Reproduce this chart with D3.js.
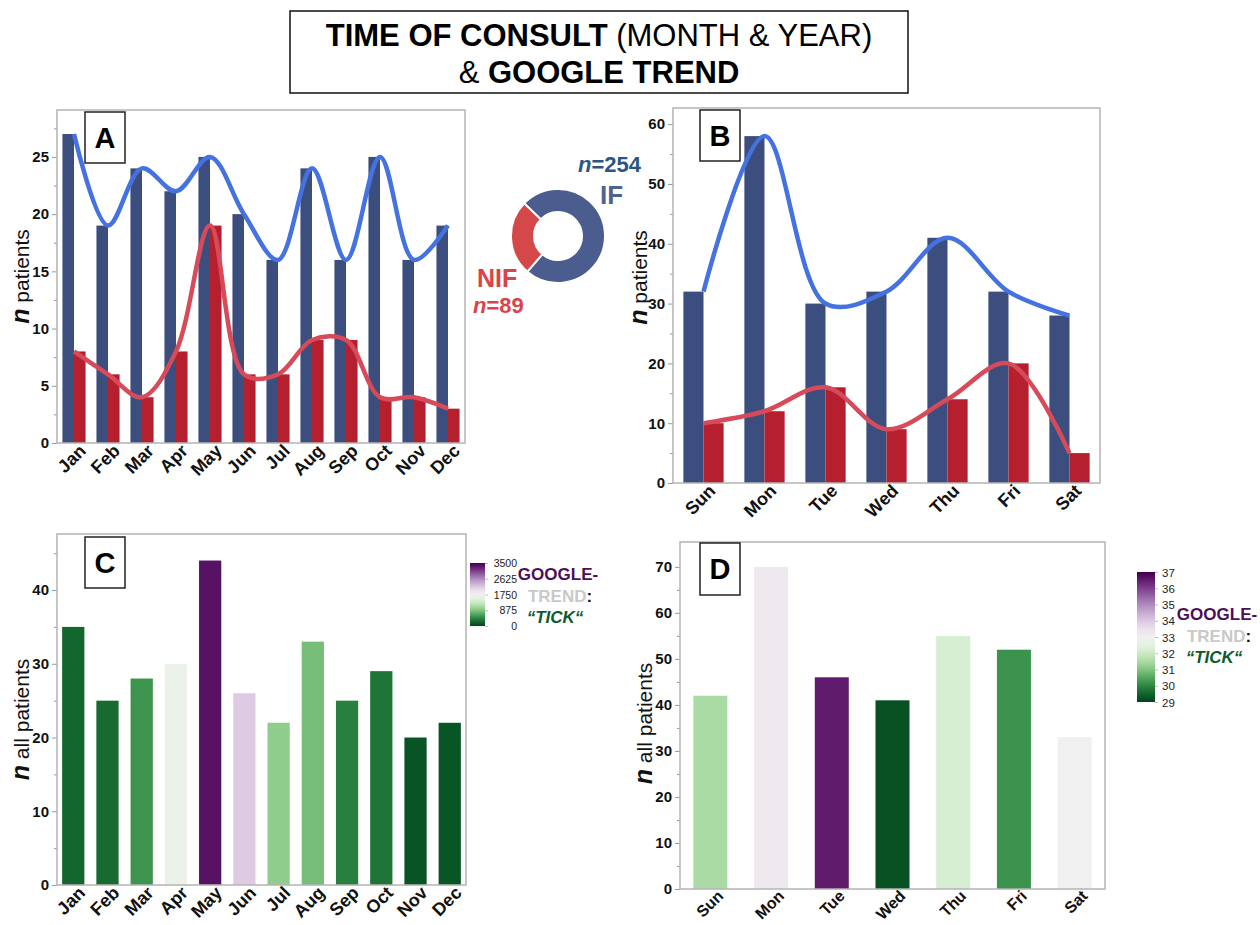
<!DOCTYPE html>
<html>
<head>
<meta charset="utf-8">
<script src="https://cdn.jsdelivr.net/npm/d3@7"></script>
<style>
  body { margin: 0; background: #fff; }
  svg { font-family: "Liberation Sans", Arial, Helvetica, sans-serif; display: block; }
</style>
</head>
<body>
<script>

// ---- data ----
const months = ['Jan','Feb','Mar','Apr','May','Jun','Jul','Aug','Sep','Oct','Nov','Dec']
const weekdays = ['Sun','Mon','Tue','Wed','Thu','Fri','Sat']

const ifByMonth  = [27, 19, 24, 22, 25, 20, 16, 24, 16, 25, 16, 19]
const nifByMonth = [8, 6, 4, 8, 19, 6, 6, 9, 9, 4, 4, 3]

const ifByDay  = [32, 58, 30, 32, 41, 32, 28]
const nifByDay = [10, 12, 16, 9, 14, 20, 5]

const allByMonth = [35, 25, 28, 30, 44, 26, 22, 33, 25, 29, 20, 22]
const allByDay   = [42, 70, 46, 41, 55, 52, 33]

// google trend "tick" (colour of the bars)
const trendByMonth = [230, 260, 530, 1650, 3350, 2170, 950, 830, 400, 330, 110, 120]
const trendByDay   = [31.5, 33.3, 36.5, 29.2, 32.2, 30.2, 33.0]

const trendTicksMonth = [0, 875, 1750, 2625, 3500]
const trendTicksDay = [29, 30, 31, 32, 33, 34, 35, 36, 37]

const donutNames = ['IF', 'NIF']
const donutCounts = [254, 89]

// ---- setup ----
const navy = '#3c4e7e'
const crimson = '#b51f2e'
const blueLine = '#4472e0'
const redLine = '#d64a5a'
const frameCol = '#b4b4b4'
const font = 'Liberation Sans, Arial, sans-serif'

let svg = d3.select('body').append('svg')
  .attr('width', 1260)
  .attr('height', 925)

// title
svg.append('rect')
  .attr('x', 290).attr('y', 11).attr('width', 618).attr('height', 82)
  .attr('fill', '#fff').attr('stroke', '#111').attr('stroke-width', 1.5)

let t1 = svg.append('text').attr('x', 599).attr('y', 46)
  .attr('text-anchor', 'middle').attr('font-size', 31).attr('fill', '#000')
t1.append('tspan').attr('font-weight', 'bold').text('TIME OF CONSULT')
t1.append('tspan').text(' (MONTH & YEAR)')

let t2 = svg.append('text').attr('x', 599).attr('y', 83)
  .attr('text-anchor', 'middle').attr('font-size', 31).attr('fill', '#000')
t2.append('tspan').text('& ')
t2.append('tspan').attr('font-weight', 'bold').text('GOOGLE TREND')

const smooth = d3.curveCatmullRom.alpha(0.5)

function range(a, b, s) {
  let out = []
  for (let v = a; v <= b + 1e-9; v += s) out.push(v)
  return out
}

function frameAndAxes(p) {
  let g = svg.append('g')

  let x = d3.scaleBand()
    .domain(p.cats)
    .range([p.left, p.right])
    .paddingInner(p.padIn)
    .paddingOuter(p.padOut)

  let y = d3.scaleLinear()
    .domain([0, p.yMax])
    .range([p.bottom, p.top])

  // minor ticks
  g.append('g')
    .attr('transform', `translate(${p.left},0)`)
    .call(d3.axisLeft(y).tickValues(p.minor).tickSize(3).tickFormat(''))
    .call(s => s.select('.domain').remove())
    .call(s => s.selectAll('line').attr('stroke', '#999'))

  // major ticks
  g.append('g')
    .attr('transform', `translate(${p.left},0)`)
    .call(d3.axisLeft(y).tickValues(p.major).tickSize(5).tickPadding(3))
    .call(s => s.select('.domain').remove())
    .call(s => s.selectAll('line').attr('stroke', '#999'))
    .call(s => s.selectAll('text')
      .attr('font-size', 15).attr('font-weight', 'bold').attr('fill', '#111')
      .attr('font-family', font))

  // category labels
  g.append('g')
    .attr('transform', `translate(0,${p.bottom})`)
    .call(d3.axisBottom(x).tickSize(0))
    .call(s => s.select('.domain').remove())
    .call(s => s.selectAll('text')
      .attr('x', 0).attr('y', 0).attr('dy', 0)
      .attr('transform', `translate(${p.catShift[0]},${p.catShift[1]}) rotate(-45)`)
      .attr('text-anchor', 'end')
      .attr('font-size', p.catSize).attr('font-weight', 'bold').attr('fill', '#111')
      .attr('font-family', font))

  // y label
  let yl = g.append('text')
    .attr('transform', `translate(${p.labelX},${(p.top + p.bottom) / 2 + p.labelShift}) rotate(-90)`)
    .attr('text-anchor', 'middle')
    .attr('fill', '#111')
  yl.append('tspan').attr('font-size', 25).attr('font-weight', 'bold').attr('font-style', 'italic').text('n')
  yl.append('tspan').attr('font-size', 21).text(' ' + p.yTitle)

  return {g, x, y}
}

function frameBox(g, p) {
  g.append('rect')
    .attr('x', p.left).attr('y', p.top)
    .attr('width', p.right - p.left).attr('height', p.bottom - p.top)
    .attr('fill', 'none').attr('stroke', frameCol).attr('stroke-width', 1.5)

  g.append('rect')
    .attr('x', p.box[0]).attr('y', p.box[1]).attr('width', p.box[2]).attr('height', p.box[3])
    .attr('fill', '#fff').attr('stroke', '#222').attr('stroke-width', 1.5)
  g.append('text')
    .attr('x', p.box[0] + p.box[2] / 2).attr('y', p.box[1] + p.box[3] / 2 + 10)
    .attr('text-anchor', 'middle')
    .attr('font-size', 29).attr('font-weight', 'bold').attr('fill', '#000')
    .text(p.letter)
}

function pairedPanel(p) {
  let {g, x, y} = frameAndAxes(p)

  let x1 = d3.scaleBand().domain(['if', 'nif']).range([0, x.bandwidth()])

  let rows = p.cats.map((c, i) => ({c: c, if: p.ifs[i], nif: p.nifs[i]}))

  g.append('g').selectAll('rect')
    .data(rows)
    .enter()
    .append('rect')
    .attr('x', d => x(d.c) + x1('if'))
    .attr('y', d => y(d.if))
    .attr('width', x1.bandwidth())
    .attr('height', d => y(0) - y(d.if))
    .attr('fill', navy)

  g.append('g').selectAll('rect')
    .data(rows)
    .enter()
    .append('rect')
    .attr('x', d => x(d.c) + x1('nif'))
    .attr('y', d => y(d.nif))
    .attr('width', x1.bandwidth())
    .attr('height', d => y(0) - y(d.nif))
    .attr('fill', crimson)

  let line = key => d3.line()
    .x(d => x(d.c) + x.bandwidth() / 2)
    .y(d => y(d[key]))
    .curve(smooth)

  g.append('path').datum(rows)
    .attr('d', line('if'))
    .attr('fill', 'none').attr('stroke', blueLine).attr('stroke-width', 4.5)

  g.append('path').datum(rows)
    .attr('d', line('nif'))
    .attr('fill', 'none').attr('stroke', redLine).attr('stroke-width', 4.5)

  frameBox(g, p)
}

function trendPanel(p) {
  let {g, x, y} = frameAndAxes(p)

  let color = d3.scaleSequential(d3.interpolatePRGn).domain([p.cDomain[1], p.cDomain[0]])

  g.append('g').selectAll('rect')
    .data(p.cats.map((c, i) => ({c: c, n: p.vals[i], t: p.trend[i]})))
    .enter()
    .append('rect')
    .attr('x', d => x(d.c))
    .attr('y', d => y(d.n))
    .attr('width', x.bandwidth())
    .attr('height', d => y(0) - y(d.n))
    .attr('fill', d => color(d.t))

  frameBox(g, p)

  // colour bar legend
  let cb = p.cbar
  let gradId = 'grad' + p.letter
  let grad = svg.append('defs').append('linearGradient')
    .attr('id', gradId).attr('x1', 0).attr('y1', 1).attr('x2', 0).attr('y2', 0)
  d3.range(0, 1.0001, 0.05).forEach(t => {
    grad.append('stop').attr('offset', t).attr('stop-color', color(p.cDomain[0] + t * (p.cDomain[1] - p.cDomain[0])))
  })

  g.append('rect')
    .attr('x', cb.x).attr('y', cb.top).attr('width', cb.w).attr('height', cb.bottom - cb.top)
    .attr('fill', `url(#${gradId})`)

  let cy = d3.scaleLinear().domain(p.cDomain).range([cb.bottom, cb.top])
  g.append('g')
    .attr('transform', `translate(${cb.x + cb.w},0)`)
    .call(d3.axisRight(cy).tickValues(p.cTicks).tickSize(3).tickPadding(4).tickFormat(d3.format('d')))
    .call(s => s.select('.domain').remove())
    .call(s => s.selectAll('line').attr('stroke', '#bbb'))
    .call(s => s.selectAll('text')
      .attr('x', cb.textX).attr('dy', '0.35em')
      .attr('text-anchor', cb.anchor)
      .attr('font-size', cb.fs).attr('fill', '#222')
      .attr('font-family', font))

  let lg = g.append('g').attr('font-weight', 'bold').attr('font-size', 17).attr('text-anchor', 'middle')
  lg.append('text').attr('x', cb.gx).attr('y', cb.gy).attr('fill', '#4d0d57').text('GOOGLE-')
  let tr = lg.append('text').attr('x', cb.gx + 2).attr('y', cb.gy + 22)
  tr.append('tspan').attr('fill', '#c9c9c9').text('TREND')
  tr.append('tspan').attr('fill', '#111').text(':')
  lg.append('text').attr('x', cb.gx - 3).attr('y', cb.gy + 43)
    .attr('fill', '#0e5a2a').attr('font-style', 'italic').text('\u201CTICK\u201C')
}

pairedPanel({
  cats: months, ifs: ifByMonth, nifs: nifByMonth,
  left: 57, right: 465, top: 110, bottom: 443, yMax: 29.1,
  major: range(0, 25, 5), minor: range(2.5, 27.5, 5),
  padIn: 0.32, padOut: 0.16, catSize: 18, catShift: [13, 9],
  labelX: 29, labelShift: 0, yTitle: 'patients',
  box: [85, 112, 40, 51], letter: 'A'
})

pairedPanel({
  cats: weekdays, ifs: ifByDay, nifs: nifByDay,
  left: 673, right: 1100, top: 108, bottom: 483, yMax: 62.7,
  major: range(0, 60, 10), minor: range(5, 55, 10),
  padIn: 0.34, padOut: 0.17, catSize: 18, catShift: [13, 9],
  labelX: 647, labelShift: -18, yTitle: 'patients',
  box: [700, 110, 40, 51], letter: 'B'
})

trendPanel({
  cats: months, vals: allByMonth, trend: trendByMonth,
  left: 57, right: 466, top: 534, bottom: 885, yMax: 47.6,
  major: range(0, 40, 10), minor: range(5, 45, 10),
  padIn: 0.35, padOut: 0.15, catSize: 18, catShift: [13, 9],
  labelX: 29, labelShift: 10, yTitle: 'all patients',
  box: [85, 537, 40, 51], letter: 'C',
  cDomain: [0, 3500], cTicks: trendTicksMonth,
  cbar: {x: 470, w: 15, top: 563, bottom: 626, textX: 32, anchor: 'end', fs: 10.5, gx: 558, gy: 580}
})

trendPanel({
  cats: weekdays, vals: allByDay, trend: trendByDay,
  left: 680, right: 1105, top: 542, bottom: 889, yMax: 75.4,
  major: range(0, 70, 10), minor: range(5, 65, 10),
  padIn: 0.44, padOut: 0.22, catSize: 16, catShift: [14, 8],
  labelX: 652, labelShift: 8, yTitle: 'all patients',
  box: [700, 543, 40, 52], letter: 'D',
  cDomain: [29, 37], cTicks: trendTicksDay,
  cbar: {x: 1137, w: 18, top: 572, bottom: 702, textX: 7, anchor: 'start', fs: 11.5, gx: 1217, gy: 620}
})

// donut of IF / NIF
let pie = d3.pie().sort(null).startAngle(-46 * Math.PI / 180).endAngle(314 * Math.PI / 180)
let arc = d3.arc().innerRadius(24).outerRadius(47)
let donut = svg.append('g').attr('transform', 'translate(558,236)')
donut.selectAll('path')
  .data(pie(donutCounts))
  .enter()
  .append('path')
  .attr('d', arc)
  .attr('fill', (d, i) => i === 0 ? '#4a5d8e' : '#d5484a')
  .attr('stroke', '#fff').attr('stroke-width', 2)

let nIf = svg.append('text').attr('x', 578).attr('y', 172).attr('font-weight', 'bold').attr('font-size', 22).attr('fill', '#2b5585')
nIf.append('tspan').attr('font-style', 'italic').text('n')
nIf.append('tspan').text('=' + donutCounts[0])
svg.append('text').attr('x', 600).attr('y', 204).attr('font-weight', 'bold').attr('font-size', 26).attr('fill', '#4f6393').text(donutNames[0])
svg.append('text').attr('x', 477).attr('y', 287).attr('font-weight', 'bold').attr('font-size', 25).attr('fill', '#d9434b').text(donutNames[1])
let nNif = svg.append('text').attr('x', 473).attr('y', 313).attr('font-weight', 'bold').attr('font-size', 22).attr('fill', '#d9434b')
nNif.append('tspan').attr('font-style', 'italic').text('n')
nNif.append('tspan').text('=' + donutCounts[1])

</script>
</body>
</html>
